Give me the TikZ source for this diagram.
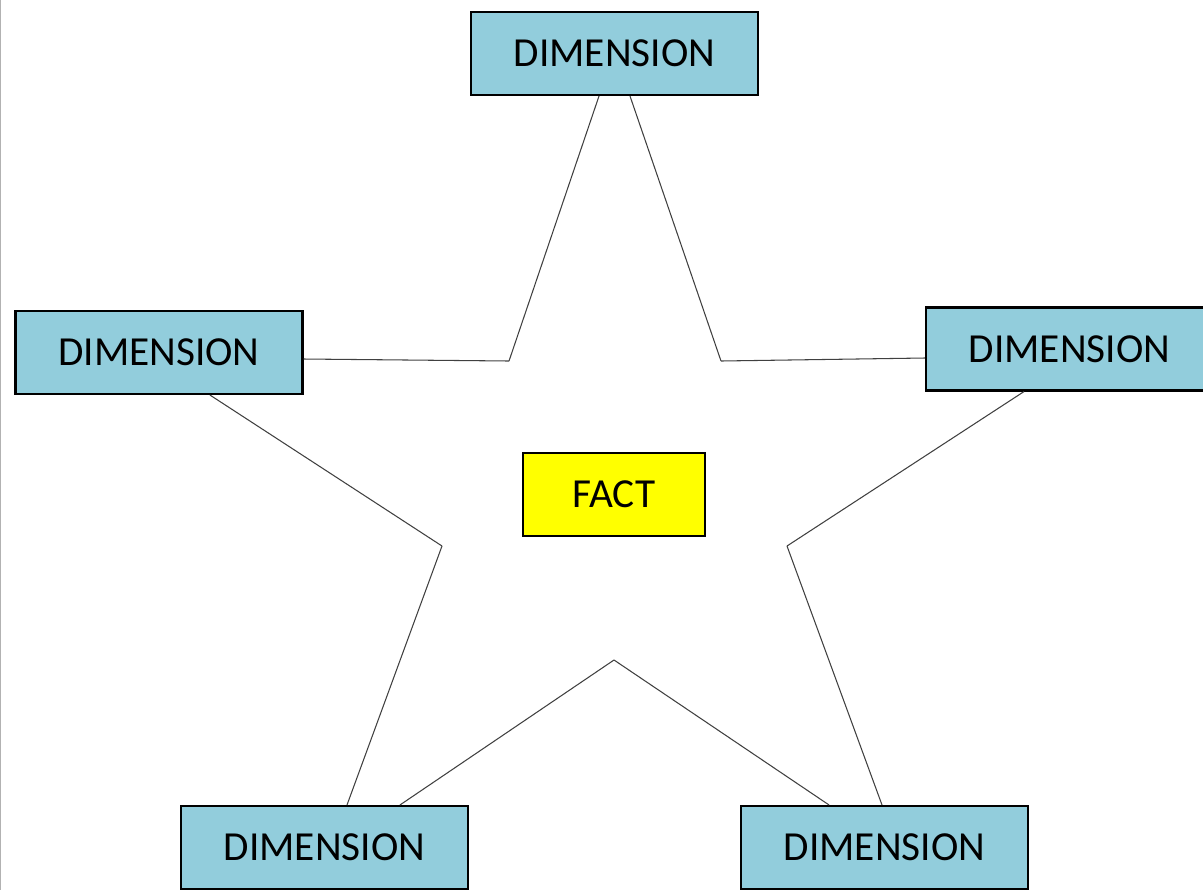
\documentclass[tikz,border=0pt]{standalone}
\usepackage{fontspec}
\setmainfont{Carlito}
\definecolor{dimblue}{HTML}{92CDDC}
\definecolor{factyellow}{HTML}{FFFF00}
\tikzset{
    dimbox/.style={draw=black, line width=1.2pt, fill=dimblue,
        minimum width=5.74cm, minimum height=1.66cm, inner sep=0pt,
        font=\fontsize{23.5}{27}\selectfont},
    factbox/.style={dimbox, fill=factyellow, minimum width=3.64cm},
    starline/.style={draw=black!75, line width=0.6pt}
}
\begin{document}
\begin{tikzpicture}[x=0.02cm, y=-0.02cm]

    % Page frame
    \useasboundingbox (0,0) rectangle (1203,890);
    \clip (0,0) rectangle (1203,890);
    \draw[black!30, line width=1pt] (0.5,0) -- (0.5,890);

    %========================
    % Inner corners of the star
    %========================
    \coordinate (i1) at (509,361);
    \coordinate (i2) at (721,361);
    \coordinate (i3) at (787,546);
    \coordinate (i4) at (614,660);
    \coordinate (i5) at (442,546);

    %========================
    % Boxes
    %========================
    \node[factbox] (fact) at (614,494.5) {FACT};

    \node[dimbox] (top)   at (614.5,53.5)  {DIMENSION};
    \node[dimbox] (left)  at (159,352.5)   {DIMENSION};
    \node[dimbox] (right) at (1069.5,349)  {DIMENSION};
    \node[dimbox] (botl)  at (324.5,847.5) {DIMENSION};
    \node[dimbox] (botr)  at (884.5,847.5) {DIMENSION};

    %========================
    % Star outline
    %========================
    % Top point
    \draw[starline] ([xshift=-0.31cm]top.south) -- (i1);
    \draw[starline] ([xshift=0.31cm]top.south) -- (i2);

    % Left point
    \draw[starline] ([yshift=-0.13cm]left.east) -- (i1);
    \draw[starline] ([xshift=1.02cm]left.south) -- (i5);

    % Right point
    \draw[starline] ([yshift=-0.18cm]right.west) -- (i2);
    \draw[starline] ([xshift=-0.91cm]right.south) -- (i3);

    % Bottom left point
    \draw[starline] ([xshift=0.45cm]botl.north) -- (i5);
    \draw[starline] ([xshift=1.51cm]botl.north) -- (i4);

    % Bottom right point
    \draw[starline] ([xshift=-1.11cm]botr.north) -- (i4);
    \draw[starline] ([xshift=-0.05cm]botr.north) -- (i3);

\end{tikzpicture}
\end{document}
